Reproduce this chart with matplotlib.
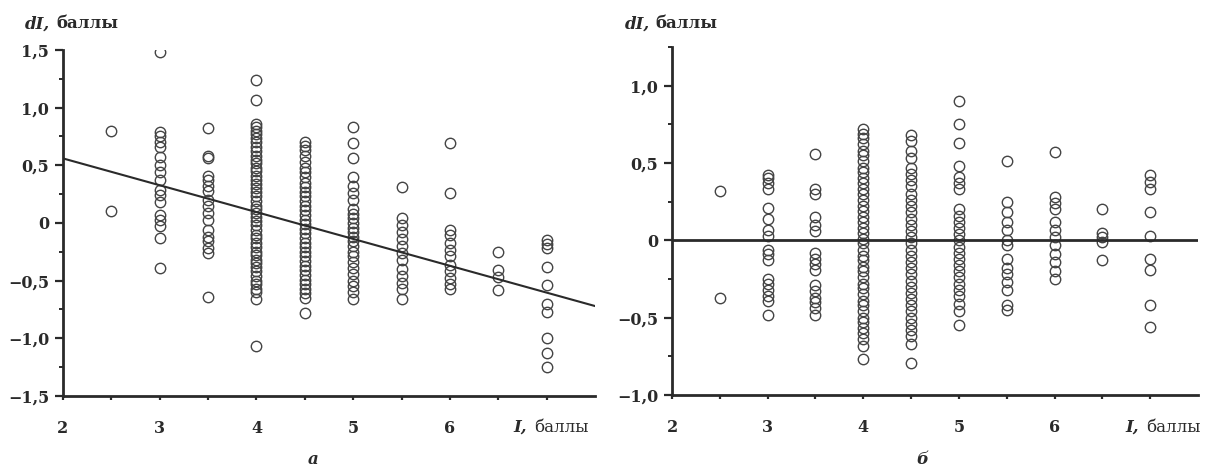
import matplotlib.pyplot as plt
from matplotlib.ticker import FuncFormatter, MultipleLocator, FixedLocator

plt.rcParams.update({"font.family": "DejaVu Serif", "font.size": 11.5,
                     "font.weight": "bold"})
INK = "#2a2a2a"
DOT = "#444444"

# --- panel а: dI vs I with regression line ---
a_I = [2.5, 3, 3.5, 4, 4.5, 5, 5.5, 6, 6.5, 7]
a_dI = [
    [0.80, 0.10],
    [1.48, 0.79, 0.75, 0.70, 0.66, 0.57, 0.50, 0.44, 0.37, 0.29, 0.24, 0.18,
     0.07, 0.03, -0.03, -0.13, -0.39],
    [0.82, 0.58, 0.56, 0.41, 0.37, 0.32, 0.28, 0.20, 0.15, 0.09, 0.03, -0.06,
     -0.12, -0.16, -0.22, -0.26, -0.64],
    [1.24, 1.07, 0.86, 0.83, 0.80, 0.77, 0.74, 0.70, 0.66, 0.62, 0.58, 0.55,
     0.52, 0.48, 0.45, 0.41, 0.37, 0.34, 0.30, 0.27, 0.23, 0.19, 0.15, 0.12,
     0.09, 0.05, 0.02, -0.02, -0.06, -0.10, -0.13, -0.17, -0.21, -0.25, -0.28,
     -0.32, -0.35, -0.38, -0.42, -0.46, -0.50, -0.53, -0.57, -0.60, -0.66,
     -1.07],
    [0.70, 0.67, 0.63, 0.58, 0.53, 0.48, 0.44, 0.40, 0.35, 0.31, 0.27, 0.23,
     0.19, 0.15, 0.11, 0.07, 0.03, -0.01, -0.05, -0.09, -0.13, -0.17, -0.21,
     -0.25, -0.29, -0.33, -0.37, -0.41, -0.45, -0.49, -0.53, -0.57, -0.61,
     -0.65, -0.78],
    [0.83, 0.69, 0.56, 0.40, 0.32, 0.26, 0.20, 0.12, 0.08, 0.04, 0.00, -0.04,
     -0.08, -0.12, -0.16, -0.20, -0.25, -0.29, -0.34, -0.39, -0.44, -0.50,
     -0.55, -0.60, -0.66],
    [0.31, 0.04, -0.02, -0.08, -0.14, -0.20, -0.26, -0.32, -0.40, -0.46,
     -0.52, -0.57, -0.66],
    [0.69, 0.26, -0.06, -0.10, -0.17, -0.23, -0.29, -0.36, -0.42, -0.48,
     -0.53, -0.57],
    [-0.25, -0.41, -0.47, -0.58],
    [-0.15, -0.18, -0.22, -0.38, -0.54, -0.70, -0.77, -1.00, -1.13, -1.25],
]
a_fit_I = [2.0, 7.5]
a_fit_dI = [0.56, -0.72]

# --- panel б: dI vs I after correction ---
b_I = [2.5, 3, 3.5, 4, 4.5, 5, 5.5, 6, 6.5, 7]
b_dI = [
    [0.32, -0.37],
    [0.42, 0.40, 0.37, 0.33, 0.21, 0.14, 0.07, 0.03, -0.06, -0.09, -0.13,
     -0.25, -0.28, -0.32, -0.36, -0.39, -0.48],
    [0.56, 0.33, 0.30, 0.15, 0.10, 0.06, -0.08, -0.12, -0.15, -0.19, -0.29,
     -0.33, -0.37, -0.40, -0.44, -0.48],
    [0.72, 0.69, 0.66, 0.62, 0.58, 0.55, 0.51, 0.47, 0.44, 0.40, 0.37, 0.33,
     0.30, 0.26, 0.22, 0.19, 0.15, 0.12, 0.08, 0.05, 0.01, -0.02, -0.06,
     -0.10, -0.13, -0.17, -0.20, -0.24, -0.28, -0.31, -0.35, -0.39, -0.42,
     -0.46, -0.50, -0.53, -0.57, -0.60, -0.64, -0.68, -0.77],
    [0.68, 0.64, 0.58, 0.53, 0.47, 0.43, 0.39, 0.35, 0.30, 0.26, 0.22, 0.18,
     0.14, 0.10, 0.06, 0.02, -0.02, -0.06, -0.10, -0.14, -0.18, -0.22, -0.26,
     -0.30, -0.34, -0.38, -0.42, -0.46, -0.50, -0.54, -0.58, -0.62, -0.67,
     -0.79],
    [0.90, 0.75, 0.63, 0.48, 0.41, 0.37, 0.33, 0.20, 0.16, 0.12, 0.08, 0.04,
     0.00, -0.04, -0.08, -0.12, -0.16, -0.20, -0.24, -0.28, -0.32, -0.36,
     -0.41, -0.46, -0.55],
    [0.51, 0.25, 0.18, 0.12, 0.07, 0.00, -0.03, -0.12, -0.18, -0.22, -0.27,
     -0.32, -0.42, -0.45],
    [0.57, 0.28, 0.24, 0.20, 0.12, 0.07, 0.02, -0.03, -0.09, -0.14, -0.20,
     -0.25],
    [0.20, 0.05, 0.02, -0.01, -0.13],
    [0.42, 0.38, 0.33, 0.18, 0.03, -0.12, -0.19, -0.42, -0.56],
]
b_fit_I = [2.0, 7.5]
b_fit_dI = [0.0, 0.0]


def comma(v, pos):
    if abs(v) < 1e-9:
        return "0"
    return f"{v:.1f}".replace(".", ",").replace("-", "\u2212")


def style_axes(ax, ylo, yhi):
    ax.set_xlim(2, 7.5)
    ax.set_ylim(ylo, yhi)
    for s in ["top", "right"]:
        ax.spines[s].set_visible(False)
    for s in ["left", "bottom"]:
        ax.spines[s].set_linewidth(2.0)
        ax.spines[s].set_color(INK)
    ax.xaxis.set_major_locator(FixedLocator([2, 3, 4, 5, 6, 7]))
    ax.set_xticklabels(["2", "3", "4", "5", "6", ""])
    ax.xaxis.set_minor_locator(FixedLocator([2.5, 3.5, 4.5, 5.5, 6.5]))
    ax.yaxis.set_major_locator(MultipleLocator(0.5))
    ax.yaxis.set_minor_locator(MultipleLocator(0.25))
    ax.yaxis.set_major_formatter(FuncFormatter(comma))
    ax.tick_params(axis="x", which="both", direction="out", length=3,
                   width=1.6, color=INK, pad=14, labelcolor=INK)
    ax.tick_params(axis="y", which="major", direction="out", length=6,
                   width=1.6, color=INK, pad=4, labelcolor=INK)
    ax.tick_params(axis="y", which="minor", direction="out", length=3,
                   width=1.4, color=INK)


def scatter_columns(ax, xs, cols):
    for x, ys in zip(xs, cols):
        ax.plot([x] * len(ys), ys, linestyle="none", marker="o", ms=7.5,
                mfc="none", mec=DOT, mew=1.0, zorder=2)


fig = plt.figure(figsize=(12.19, 4.67), dpi=100)
W, H = 1219, 467

axa = fig.add_axes([63 / W, 1 - 396 / H, (595 - 63) / W, (396 - 50) / H])
scatter_columns(axa, a_I, a_dI)
axa.plot(a_fit_I, a_fit_dI, color=INK, lw=1.5, zorder=3)
style_axes(axa, -1.5, 1.5)

axb = fig.add_axes([672 / W, 1 - 395 / H, (1198 - 672) / W, (395 - 47) / H])
scatter_columns(axb, b_I, b_dI)
axb.plot(b_fit_I, b_fit_dI, color=INK, lw=2.0, zorder=3)
style_axes(axb, -1.0, 1.25)

# axis titles, two parts each (italic symbol + units)
for x0, x1 in [(25, 56), (625, 655)]:
    fig.text(x0 / W, 1 - 24 / H, "dI,", style="italic", fontsize=12,
             color=INK, va="center")
    fig.text(x1 / W, 1 - 24 / H, "баллы", fontsize=12, weight="bold",
             color=INK, va="center")
for x0, x1 in [(513, 534), (1125, 1146)]:
    fig.text(x0 / W, 1 - 427 / H, "I,", style="italic", fontsize=12,
             color=INK, va="center")
    fig.text(x1 / W, 1 - 427 / H, "баллы", fontsize=12, weight="normal",
             color=INK, va="center")

fig.text(313 / W, 1 - 460 / H, "а", style="italic", fontsize=12,
         color=INK, ha="center", va="center")
fig.text(922 / W, 1 - 460 / H, "б", style="italic", fontsize=12,
         color=INK, ha="center", va="center")

fig.savefig("out.png", dpi=100, facecolor="white")
